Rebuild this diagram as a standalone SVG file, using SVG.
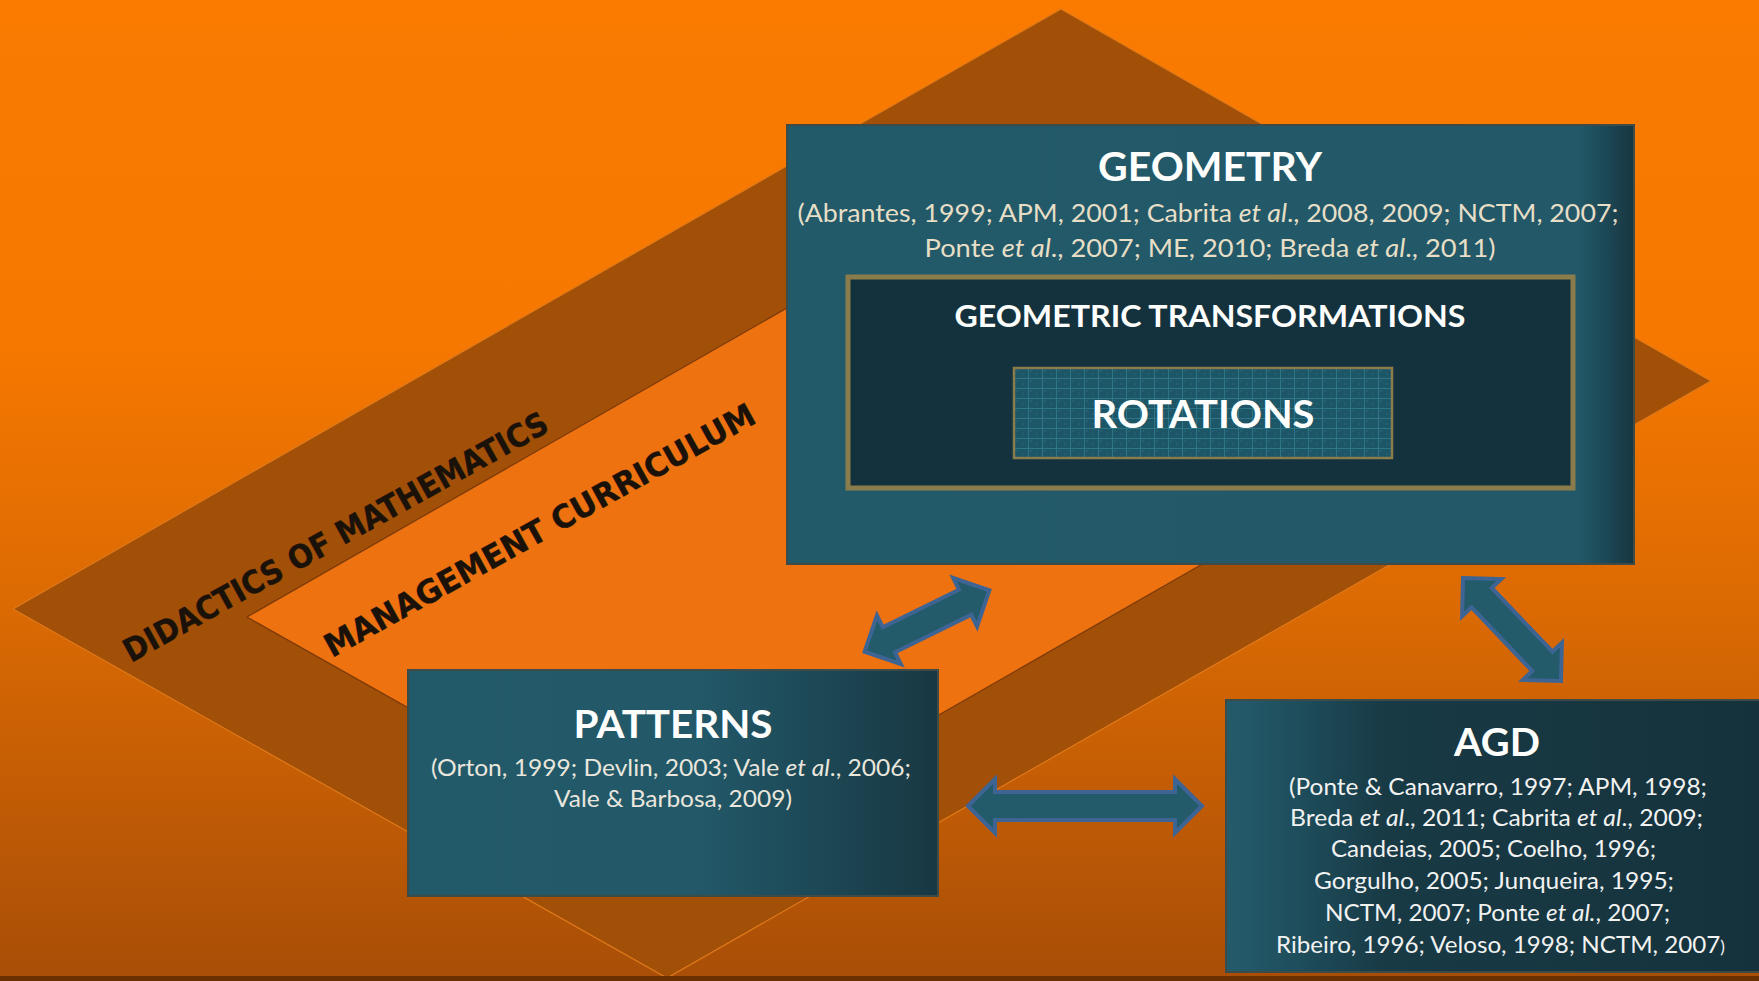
<svg xmlns="http://www.w3.org/2000/svg" width="1759" height="981" viewBox="0 0 1759 981">
<defs>
<linearGradient id="bg" x1="0" y1="0" x2="0" y2="1">
<stop offset="0" stop-color="#FA7B00"/>
<stop offset="0.35" stop-color="#F67800"/>
<stop offset="0.62" stop-color="#DB6A03"/>
<stop offset="1" stop-color="#A84E07"/>
</linearGradient>
<linearGradient id="geoGrad" x1="0" y1="0" x2="1" y2="0">
<stop offset="0" stop-color="#235A69"/>
<stop offset="0.935" stop-color="#225868"/>
<stop offset="1" stop-color="#173741"/>
</linearGradient>
<linearGradient id="patGrad" x1="0" y1="0" x2="1" y2="0">
<stop offset="0" stop-color="#235A69"/>
<stop offset="0.55" stop-color="#225868"/>
<stop offset="1" stop-color="#183843"/>
</linearGradient>
<linearGradient id="agdGrad" x1="0" y1="0" x2="1" y2="0">
<stop offset="0" stop-color="#245B6A"/>
<stop offset="0.04" stop-color="#225868"/>
<stop offset="0.3" stop-color="#183A45"/>
<stop offset="1" stop-color="#15323C"/>
</linearGradient>
<pattern id="grid" x="1014" y="368" width="14" height="10" patternUnits="userSpaceOnUse">
<rect width="14" height="10" fill="#1D5667"/>
<rect x="2" y="2" width="2" height="2" fill="#226070"/>
<rect x="8" y="5" width="2" height="2" fill="#226070"/>
<rect x="0" y="0" width="14" height="1" fill="#2D7587"/>
<rect x="0" y="0" width="1" height="10" fill="#2D7587"/>
</pattern>
<style>
.box{stroke:#3E4B47;stroke-width:2}
.title{font-family:Lato,"Open Sans","Liberation Sans",sans-serif;font-weight:bold;fill:#FFFFFF;text-anchor:middle}
.cite{font-family:Lato,"Open Sans","Liberation Sans",sans-serif;text-anchor:middle}
.band{font-family:"DejaVu Sans","Liberation Sans",sans-serif;font-weight:bold;fill:#1A1208;font-size:32px;stroke:#1A1208;stroke-width:0.4}
.gold{fill:none;stroke:#8B7C4C}
.conn{fill:#235B6A;stroke:#3E6494;stroke-width:4;stroke-linejoin:miter}
</style>
</defs>

<g id="background">
<rect x="0" y="0" width="1759" height="981" fill="url(#bg)"/>
<polygon points="1061,9 1711,381 667,978 13,609" fill="#A24F07" stroke="#E07A18" stroke-width="1.2"/>
<polygon points="1077,142 1508,389 682,862 247,617" fill="#EE7210" stroke="#7A3A05" stroke-width="1.2"/>
<text class="band" transform="translate(131,663) rotate(-29)" textLength="480" lengthAdjust="spacingAndGlyphs">DIDACTICS OF MATHEMATICS</text>
<text class="band" transform="translate(332,658) rotate(-29)" textLength="487" lengthAdjust="spacingAndGlyphs">MANAGEMENT CURRICULUM</text>
<rect x="0" y="976" width="1759" height="5" fill="#6A3002"/>
</g>

<g id="connectors">
<path class="conn" transform="translate(927,621) rotate(-26.2)" d="M-69.5,0 L-42.5,-27 L-42.5,-14 L42.5,-14 L42.5,-27 L69.5,0 L42.5,27 L42.5,14 L-42.5,14 L-42.5,27 Z"/>
<path class="conn" transform="translate(1512,629.5) rotate(46.4)" d="M-71,0 L-44,-27 L-44,-14 L44,-14 L44,-27 L71,0 L44,27 L44,14 L-44,14 L-44,27 Z"/>
<path class="conn" transform="translate(1085,806)" d="M-117,0 L-90,-27 L-90,-14 L90,-14 L90,-27 L117,0 L90,27 L90,14 L-90,14 L-90,27 Z"/>
</g>

<g id="node-geometry">
<rect class="box" x="787" y="125" width="847" height="439" fill="url(#geoGrad)"/>
<text class="title" x="1210" y="181" font-size="40" textLength="224" lengthAdjust="spacingAndGlyphs">GEOMETRY</text>
<text class="cite" x="1208" y="222" font-size="25" fill="#E6DEC6" textLength="821" lengthAdjust="spacingAndGlyphs">(Abrantes, 1999; APM, 2001; Cabrita <tspan font-style="italic">et al</tspan>., 2008, 2009; NCTM, 2007;</text>
<text class="cite" x="1210" y="257" font-size="25" fill="#E6DEC6" textLength="571" lengthAdjust="spacingAndGlyphs">Ponte <tspan font-style="italic">et al</tspan>., 2007; ME, 2010; Breda <tspan font-style="italic">et al</tspan>., 2011)</text>
</g>

<g id="node-geometric-transformations">
<rect x="848" y="277" width="725" height="211" fill="#14323D"/>
<rect class="gold" x="848" y="277" width="725" height="211" stroke-width="5"/>
<text class="title" x="1210" y="327" font-size="31" textLength="511" lengthAdjust="spacingAndGlyphs">GEOMETRIC TRANSFORMATIONS</text>
</g>

<g id="node-rotations">
<rect x="1014" y="368" width="378" height="90" fill="url(#grid)"/>
<rect class="gold" x="1014" y="368" width="378" height="90" stroke-width="2.5"/>
<text class="title" x="1203" y="428" font-size="39" textLength="223" lengthAdjust="spacingAndGlyphs">ROTATIONS</text>
</g>

<g id="node-patterns">
<rect class="box" x="408" y="670" width="530" height="226" fill="url(#patGrad)"/>
<text class="title" x="673" y="738" font-size="39" textLength="199" lengthAdjust="spacingAndGlyphs">PATTERNS</text>
<text class="cite" x="671" y="776" font-size="24" fill="#E9E6DD" textLength="480" lengthAdjust="spacingAndGlyphs">(Orton, 1999; Devlin, 2003; Vale <tspan font-style="italic">et al</tspan>., 2006;</text>
<text class="cite" x="673" y="807" font-size="24" fill="#E9E6DD" textLength="238" lengthAdjust="spacingAndGlyphs">Vale &amp; Barbosa, 2009)</text>
</g>

<g id="node-agd">
<rect class="box" x="1226" y="700" width="540" height="272" fill="url(#agdGrad)"/>
<text class="title" x="1497" y="756" font-size="39" textLength="86" lengthAdjust="spacingAndGlyphs">AGD</text>
<text class="cite" x="1498" y="795" font-size="23.5" fill="#F2F2F2" textLength="418" lengthAdjust="spacingAndGlyphs">(Ponte &amp; Canavarro, 1997; APM, 1998;</text>
<text class="cite" x="1496.5" y="826" font-size="23.5" fill="#F2F2F2" textLength="413" lengthAdjust="spacingAndGlyphs">Breda <tspan font-style="italic">et al</tspan>., 2011; Cabrita <tspan font-style="italic">et al</tspan>., 2009;</text>
<text class="cite" x="1493.5" y="857" font-size="23.5" fill="#F2F2F2" textLength="325" lengthAdjust="spacingAndGlyphs">Candeias, 2005; Coelho, 1996;</text>
<text class="cite" x="1494" y="889" font-size="23.5" fill="#F2F2F2" textLength="360" lengthAdjust="spacingAndGlyphs">Gorgulho, 2005; Junqueira, 1995;</text>
<text class="cite" x="1497.5" y="921" font-size="23.5" fill="#F2F2F2" textLength="345" lengthAdjust="spacingAndGlyphs">NCTM, 2007; Ponte <tspan font-style="italic">et al.</tspan>, 2007;</text>
<text class="cite" x="1500.5" y="953" font-size="23.5" fill="#F2F2F2" textLength="449" lengthAdjust="spacingAndGlyphs">Ribeiro, 1996; Veloso, 1998; NCTM, 2007<tspan font-size="17">)</tspan></text>
</g>
</svg>
